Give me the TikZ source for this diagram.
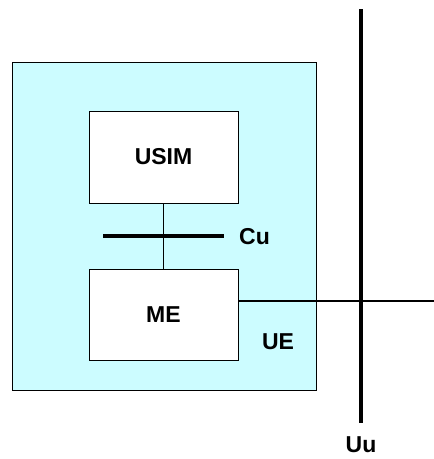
\documentclass[tikz,border=0pt]{standalone}
\usepackage{fontspec}
\setmainfont{Liberation Sans}
\definecolor{uecyan}{HTML}{CCFCFF}
\begin{document}
\begin{tikzpicture}[
    x=1pt, y=-1pt,
    boite/.style={draw, line width=1pt, inner sep=0pt, font=\fontsize{23}{27}\selectfont\bfseries},
    etiquette/.style={inner sep=0pt, font=\fontsize{23}{27}\selectfont\bfseries},
    lien/.style={line width=1.3pt},
    barre/.style={line width=4pt}
]
    \useasboundingbox (0,0) rectangle (434,459);

    \node[boite, fill=uecyan, minimum width=304pt, minimum height=328pt] (ue) at (164,226) {};
    \node[boite, fill=white, minimum width=149pt, minimum height=92pt] (usim) at (163.5,157) {USIM};
    \node[boite, fill=white, minimum width=149pt, minimum height=91pt] (me) at (163.5,314.5) {ME};

    \node[etiquette] (ue-lbl) at (278,342) {UE};
    \node[etiquette, anchor=west] (cu-lbl) at (239,237) {Cu};
    \node[etiquette] (uu-lbl) at (361,445) {Uu};

    \coordinate (cuG) at (103,236);
    \coordinate (cuD) at (224,236);
    \coordinate (uuH) at (361,9);
    \coordinate (uuB) at (361,423);
    \coordinate (radio) at (434,301);

    \draw[lien] (usim) -- (me);
    \draw[barre] (cuG) -- (cuD);
    \draw[barre] (uuH) -- (uuB);
    \draw[lien] (me.east |- radio) -- (radio);
\end{tikzpicture}
\end{document}
